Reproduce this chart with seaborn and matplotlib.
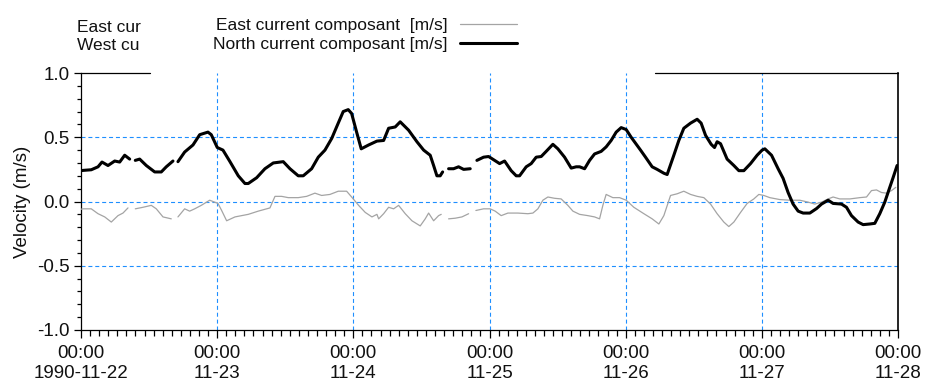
import numpy as np
import pandas as pd
import matplotlib
matplotlib.use("Agg")
import matplotlib.pyplot as plt
import seaborn as sns
from matplotlib.ticker import MultipleLocator
from matplotlib.lines import Line2D

nan = np.nan

# ---------------- data (hours since 1990-11-22 00:00) ----------------
north_hours = [
    0.0, 0.35, 1.81, 3.0, 3.7, 4.76, 5.94, 6.82, 7.70, 8.58,
    9.1, 9.57, 10.34, 11.51, 12.99, 14.15, 15.03, 16.21, 16.6, 17.09,
    18.27, 19.74, 20.92, 22.38, 22.96, 24.02, 25.02, 26.26, 27.72, 28.90,
    29.48, 30.96, 32.42, 33.89, 35.65, 36.83, 38.29, 39.17, 40.65, 41.82,
    43.0, 44.18, 45.34, 46.22, 47.10, 47.70, 48.58, 49.39, 50.70, 52.16,
    53.34, 54.22, 55.38, 56.26, 57.74, 59.21, 60.39, 61.55, 62.15, 62.73,
    63.31, 63.74, 64.2, 64.79, 65.67, 66.55, 67.44, 68.60, 69.2, 69.78,
    70.96, 71.84, 72.90, 73.78, 74.66, 75.82, 76.71, 77.30, 78.47, 79.35,
    80.23, 81.11, 81.99, 83.17, 84.05, 85.23, 86.40, 87.28, 87.88, 88.76,
    89.64, 90.52, 91.68, 92.56, 93.44, 94.33, 95.21, 96.09, 96.97, 98.62,
    99.50, 100.67, 101.55, 102.73, 103.31, 104.49, 105.37, 106.25, 107.44, 108.60,
    109.30, 110.08, 111.07, 111.66, 112.12, 112.72, 113.88, 115.07, 115.95, 116.83,
    118.01, 119.17, 120.05, 120.53, 121.71, 122.87, 123.75, 124.63, 125.51, 126.40,
    127.28, 128.46, 129.64, 130.52, 131.68, 132.56, 134.04, 134.92, 135.80, 136.97,
    137.85, 139.03, 139.91, 140.79, 141.67, 142.55, 143.13, 143.84]
north_speed = [
    0.24, 0.242, 0.247, 0.27, 0.307, 0.28, 0.315, 0.307, 0.36, 0.33,
    nan, 0.32, 0.33, 0.28, 0.23, 0.23, 0.27, 0.315, nan, 0.31,
    0.385, 0.44, 0.52, 0.54, 0.52, 0.42, 0.40, 0.31, 0.20, 0.14,
    0.14, 0.185, 0.255, 0.30, 0.31, 0.255, 0.20, 0.20, 0.255, 0.345,
    0.40, 0.49, 0.61, 0.70, 0.715, 0.685, 0.54, 0.41, 0.44, 0.47,
    0.475, 0.57, 0.58, 0.62, 0.555, 0.465, 0.40, 0.36, 0.28, 0.20,
    0.20, 0.23, nan, 0.255, 0.255, 0.27, 0.25, 0.255, nan, 0.32,
    0.345, 0.35, 0.32, 0.295, 0.315, 0.24, 0.20, 0.20, 0.27, 0.295,
    0.345, 0.35, 0.39, 0.445, 0.41, 0.345, 0.26, 0.27, 0.27, 0.255,
    0.32, 0.37, 0.39, 0.425, 0.475, 0.54, 0.575, 0.56, 0.50, 0.40,
    0.345, 0.27, 0.25, 0.22, 0.21, 0.36, 0.475, 0.57, 0.61, 0.64,
    0.61, 0.515, 0.445, 0.42, 0.465, 0.45, 0.33, 0.28, 0.24, 0.24,
    0.295, 0.36, 0.40, 0.41, 0.36, 0.255, 0.18, 0.07, -0.02, -0.075,
    -0.09, -0.09, -0.055, -0.02, 0.01, -0.015, -0.02, -0.045, -0.11, -0.16,
    -0.18, -0.175, -0.17, -0.095, -0.005, 0.11, 0.185, 0.28]

east_hours = [
    0.0, 0.35, 1.81, 3.0, 4.18, 5.34, 6.52, 7.40, 8.28, 9.0,
    9.57, 10.93, 12.39, 13.27, 14.45, 15.91, 16.5, 17.09, 18.27, 19.15,
    20.04, 21.20, 22.68, 23.56, 24.14, 24.79, 25.67, 27.14, 29.48, 31.24,
    33.30, 34.19, 35.37, 36.53, 38.29, 39.77, 41.23, 42.41, 43.88, 45.34,
    46.82, 47.70, 48.93, 50.10, 51.28, 52.16, 52.46, 53.34, 54.22, 55.10,
    55.98, 57.15, 58.33, 59.79, 60.67, 61.27, 62.15, 63.03, 63.49, 64.1,
    64.79, 65.96, 67.14, 68.32, 69.0, 69.60, 70.96, 72.12, 73.0, 74.06,
    75.24, 77.0, 78.77, 79.65, 80.53, 81.41, 82.29, 83.47, 84.63, 85.81,
    86.70, 87.88, 89.34, 90.52, 91.40, 91.98, 92.56, 93.74, 94.92, 96.09,
    97.44, 99.21, 100.67, 101.85, 102.73, 103.91, 105.07, 106.25, 107.44, 108.60,
    109.78, 110.96, 112.12, 113.30, 114.18, 115.07, 116.25, 117.41, 118.59, 119.47,
    120.35, 121.41, 123.18, 124.94, 126.70, 128.16, 129.34, 130.52, 131.68, 132.56,
    133.74, 135.51, 137.27, 138.45, 139.33, 140.21, 141.09, 141.97, 142.86, 143.61]
east_speed = [
    -0.06, -0.057, -0.057, -0.095, -0.12, -0.16, -0.11, -0.09, -0.05, nan,
    -0.057, -0.045, -0.03, -0.057, -0.12, -0.135, nan, -0.12, -0.057, -0.075,
    -0.057, -0.03, 0.01, -0.005, -0.015, -0.07, -0.15, -0.12, -0.10, -0.075,
    -0.05, 0.04, 0.04, 0.03, 0.03, 0.04, 0.065, 0.047, 0.055, 0.08,
    0.08, 0.035, -0.03, -0.085, -0.12, -0.10, -0.135, -0.095, -0.045, -0.057,
    -0.03, -0.095, -0.15, -0.19, -0.135, -0.09, -0.15, -0.11, -0.10, nan,
    -0.135, -0.13, -0.12, -0.095, nan, -0.07, -0.057, -0.057, -0.075, -0.11,
    -0.09, -0.09, -0.095, -0.09, -0.057, 0.01, 0.035, 0.025, 0.02, -0.03,
    -0.075, -0.10, -0.11, -0.12, -0.135, -0.03, 0.055, 0.03, 0.03, 0.01,
    -0.045, -0.095, -0.135, -0.175, -0.11, 0.047, 0.06, 0.08, 0.055, 0.04,
    0.03, -0.02, -0.095, -0.16, -0.195, -0.16, -0.085, -0.015, 0.02, 0.055,
    0.047, 0.03, 0.015, 0.01, 0.01, -0.005, -0.02, -0.005, 0.02, 0.035,
    0.02, 0.02, 0.03, 0.035, 0.085, 0.09, 0.07, 0.065, 0.085, 0.11]

day_ticks = [0, 24, 48, 72, 96, 120, 144]
day_labels = ["1990-11-22", "11-23", "11-24", "11-25", "11-26", "11-27", "11-28"]
time_label = "00:00"
y_ticks = [-1.0, -0.5, 0.0, 0.5, 1.0]
y_tick_labels = ["-1.0", "-0.5", "0.0", "0.5", "1.0"]
grid_levels = [-0.5, 0.0, 0.5]
grid_days = [24, 48, 72, 96, 120]

east_label = "East current composant  [m/s]"
north_label = "North current composant [m/s]"
y_label = "Velocity (m/s)"
clipped_titles = ["East cur", "West cu"]

assert len(north_hours) == len(north_speed)
assert len(east_hours) == len(east_speed)


def to_frame(hours, speed):
    df = pd.DataFrame({"hours": hours, "speed": speed})
    df["seg"] = df["speed"].isna().cumsum()
    return df.dropna()


north_df = to_frame(north_hours, north_speed)
east_df = to_frame(east_hours, east_speed)

# ---------------- style ----------------
sns.set_style("ticks")
plt.rcParams["font.family"] = ["Liberation Sans", "DejaVu Sans"]
plt.rcParams["axes.linewidth"] = 0.9

W, H = 925, 387
fig = plt.figure(figsize=(W / 100, H / 100), dpi=100)
ax = fig.add_axes([81 / W, 1 - 330 / H, (898 - 81) / W, (330 - 73) / H])

grid_color = "#1e8fff"
for lv in grid_levels:
    ax.axhline(lv, color=grid_color, lw=0.8, ls=(0, (3.6, 2.6)), zorder=1)
for d in grid_days:
    ax.axvline(d, color=grid_color, lw=0.8, ls=(0, (3.6, 2.6)), zorder=1)

sns.lineplot(data=east_df, x="hours", y="speed", units="seg", estimator=None,
             sort=False, color="#a4a4a4", lw=0.9, ax=ax, legend=False, zorder=3)
sns.lineplot(data=north_df, x="hours", y="speed", units="seg", estimator=None,
             sort=False, color="black", lw=2.2, ax=ax, legend=False, zorder=4)

ax.set_xlim(day_ticks[0], day_ticks[-1])
ax.set_ylim(y_ticks[0], y_ticks[-1])

ax.set_xticks(day_ticks)
ax.set_xticklabels([f"{time_label}\n{d}" for d in day_labels], linespacing=1.2)
ax.xaxis.set_minor_locator(MultipleLocator(1.6))
ax.set_yticks(y_ticks)
ax.set_yticklabels(y_tick_labels)
ax.yaxis.set_minor_locator(MultipleLocator(0.1))

ax.tick_params(axis="both", which="both", direction="out", color="black",
               width=0.9, labelsize=13.5, labelcolor="#111111")
ax.tick_params(axis="x", which="major", length=6, pad=5)
ax.tick_params(axis="x", which="minor", length=4)
ax.tick_params(axis="y", which="major", length=5, pad=3)
ax.tick_params(axis="y", which="minor", length=3)

ax.set_xlabel("")
ax.set_ylabel(y_label, fontsize=13.5, color="#111111")
ax.yaxis.set_label_coords(-0.061, 0.5)

for s in ["left", "bottom", "right"]:
    ax.spines[s].set_visible(True)
    ax.spines[s].set_color("black")
ax.spines["right"].set_linewidth(1.2)
ax.spines["top"].set_visible(False)
# top frame only partly visible (hidden behind the legend area)
ax.axhline(y_ticks[-1], xmin=0, xmax=(150 - 81) / 817, color="black", lw=0.9, clip_on=False, zorder=5)
ax.axhline(y_ticks[-1], xmin=(655 - 81) / 817, xmax=1, color="black", lw=0.9, clip_on=False, zorder=5)

handles = [Line2D([], [], color="#a4a4a4", lw=0.9),
           Line2D([], [], color="black", lw=2.2)]
fig.legend(handles, [east_label, north_label], loc="upper left",
           bbox_to_anchor=(213 / W, 1 - 18 / H), frameon=False, markerfirst=False,
           handlelength=3.3, handletextpad=0.7, labelspacing=0.2,
           borderpad=0, borderaxespad=0,
           prop={"family": "Liberation Sans", "size": 12.5}, labelcolor="#111111")

fig.text(77 / W, 1 - 27 / H, clipped_titles[0], fontsize=12.5, va="center", ha="left", color="#111111")
fig.text(77 / W, 1 - 46 / H, clipped_titles[1], fontsize=12.5, va="center", ha="left", color="#111111")

fig.savefig("out.png", dpi=100)
